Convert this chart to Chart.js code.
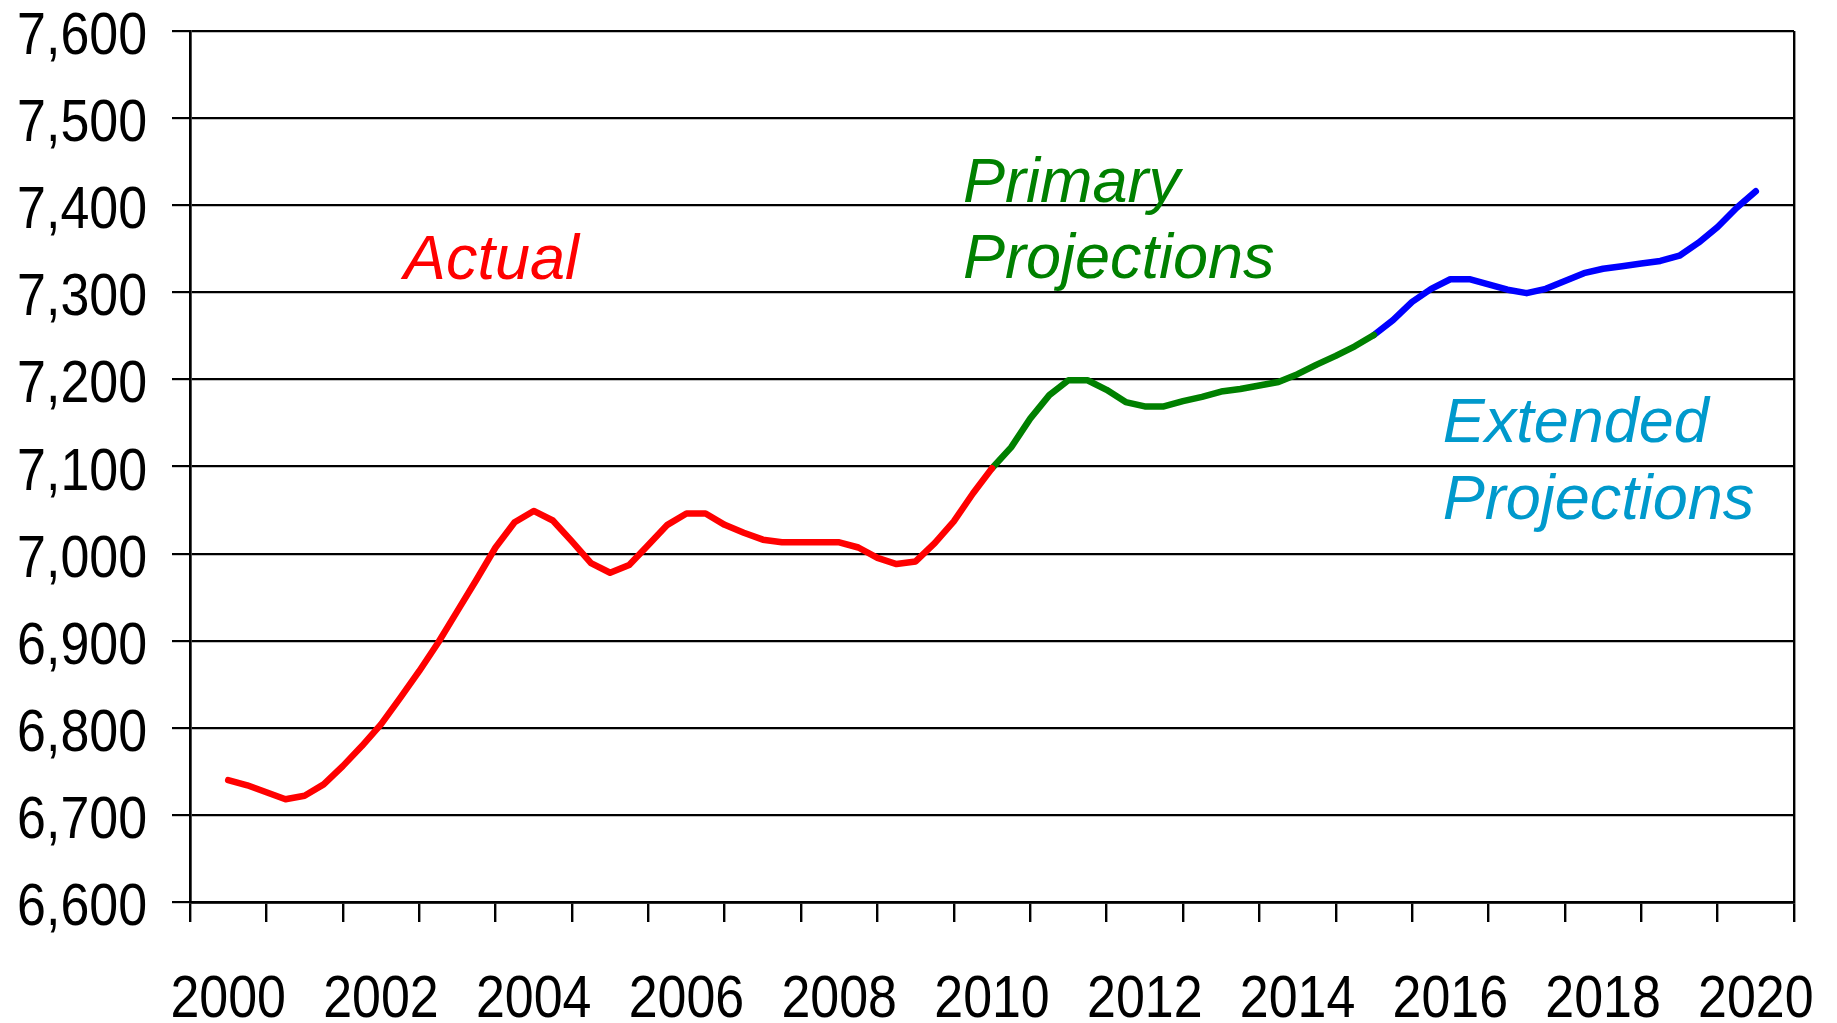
<!DOCTYPE html>
<html>
<head>
<meta charset="utf-8">
<title>Actual, primary and extended projections</title>
<script src="https://cdn.jsdelivr.net/npm/chart.js@4.4.1/dist/chart.umd.min.js"></script>
<style>
  html, body { margin: 0; padding: 0; background: #fff; }
  #chart { display: block; }
</style>
</head>
<body>
<canvas id="chart" width="1837" height="1023"></canvas>
<script>
// quarterly values: first point is mid 2000, one point every quarter up to mid 2020
const firstQuarter = 2000.5;

const actual = [
  6740, 6734, 6726, 6718, 6722, 6735, 6756, 6779, 6804, 6834,
  6865, 6898, 6934, 6970, 7007, 7036, 7049, 7038, 7014, 6989,
  6978, 6987, 7010, 7033, 7046, 7046, 7033, 7024, 7016, 7013,
  7013, 7013, 7013, 7007, 6995, 6988, 6991, 7012, 7037, 7069,
  7098
];
// starts at the last actual quarter
const primary = [
  7098, 7122, 7155, 7182, 7199, 7199, 7188, 7174, 7169, 7169,
  7175, 7180, 7186, 7189, 7193, 7197, 7206, 7217, 7227, 7238,
  7251
];
// starts at the last primary quarter
const extended = [
  7251, 7268, 7289, 7304, 7315, 7315, 7309, 7303, 7299, 7304,
  7313, 7322, 7327, 7330, 7333, 7336, 7342, 7357, 7375, 7397,
  7416
];

const yTicks = [6600, 6700, 6800, 6900, 7000, 7100, 7200, 7300, 7400, 7500, 7600];
const yearLabels = ['2000', '2002', '2004', '2006', '2008', '2010', '2012', '2014', '2016', '2018', '2020'];

const notes = [
  { lines: ['Actual'], year: 2002.8, value: 7315, color: '#FF0000' },
  { lines: ['Primary', 'Projections'], year: 2010.12, value: 7404, color: '#008000' },
  { lines: ['Extended', 'Projections'], year: 2016.4, value: 7128, color: '#0099CC' }
];

function toPoints(values, startIndex) {
  return values.map((v, k) => ({ x: firstQuarter + (startIndex + k) * 0.25, y: v }));
}

const baseFont = '"Liberation Sans", Arial, sans-serif';
const squeeze = 0.865; // axis labels in the original are a narrow face

// axis labels, drawn a bit condensed like the original
const axisLabels = {
  id: 'axisLabels',
  afterDraw(chart) {
    const { ctx, scales: { x, y } } = chart;
    ctx.save();
    ctx.font = '60px ' + baseFont;
    ctx.fillStyle = '#000';
    ctx.textBaseline = 'alphabetic';

    ctx.textAlign = 'right';
    yTicks.forEach(v => {
      const py = y.getPixelForValue(v) + 23;
      ctx.save();
      ctx.translate(y.right - 43, py);
      ctx.scale(squeeze, 1);
      ctx.fillText(v.toLocaleString('en-US'), 0, 0);
      ctx.restore();
    });

    ctx.textAlign = 'center';
    yearLabels.forEach(lbl => {
      const px = x.getPixelForValue(Number(lbl) + 0.5);
      ctx.save();
      ctx.translate(px, x.top + 115);
      ctx.scale(squeeze, 1);
      ctx.fillText(lbl, 0, 0);
      ctx.restore();
    });
    ctx.restore();
  }
};

// text labels placed on the plot in data coordinates
const noteLabels = {
  id: 'noteLabels',
  afterDatasetsDraw(chart) {
    const { ctx, scales: { x, y } } = chart;
    ctx.save();
    ctx.font = 'italic 63px ' + baseFont;
    ctx.textAlign = 'left';
    ctx.textBaseline = 'alphabetic';
    notes.forEach(n => {
      ctx.fillStyle = n.color;
      const px = x.getPixelForValue(n.year);
      const py = y.getPixelForValue(n.value);
      n.lines.forEach((t, i) => ctx.fillText(t, px, py + i * 76.6));
    });
    ctx.restore();
  }
};

function lineSet(values, startIndex, color) {
  return {
    data: toPoints(values, startIndex),
    borderColor: color,
    borderWidth: 6.5,
    borderCapStyle: 'round',
    borderJoinStyle: 'round',
    pointRadius: 0,
    tension: 0,
    fill: false
  };
}

new Chart(document.getElementById('chart'), {
  type: 'line',
  data: {
    datasets: [
      lineSet(actual, 0, '#FF0000'),
      lineSet(primary, actual.length - 1, '#008000'),
      lineSet(extended, actual.length + primary.length - 2, '#0000FF')
    ]
  },
  options: {
    responsive: false,
    animation: false,
    layout: { padding: { top: 31, right: 43, left: 0, bottom: 0 } },
    plugins: { legend: { display: false }, tooltip: { enabled: false } },
    scales: {
      x: {
        type: 'linear',
        min: 2000,
        max: 2021,
        afterFit(scale) { scale.height = 121; },
        afterBuildTicks(scale) {
          const t = [];
          for (let yr = 2000; yr <= 2021; yr++) t.push({ value: yr });
          scale.ticks = t;
        },
        ticks: { display: false, autoSkip: false },
        grid: {
          drawOnChartArea: true,
          color: c => (c.tick && c.tick.value === 2021) ? '#000' : 'rgba(0,0,0,0)',
          tickColor: '#000',
          lineWidth: 2.4,
          tickLength: 20
        },
        border: { display: true, color: '#000', width: 2.7 }
      },
      y: {
        min: 6600,
        max: 7600,
        afterFit(scale) { scale.width = 190; },
        afterBuildTicks(scale) { scale.ticks = yTicks.map(v => ({ value: v })); },
        ticks: { display: false },
        grid: { color: '#000', lineWidth: 2.2, tickLength: 18 },
        border: { display: true, color: '#000', width: 2.7 }
      }
    }
  },
  plugins: [noteLabels, axisLabels]
});
</script>
</body>
</html>
